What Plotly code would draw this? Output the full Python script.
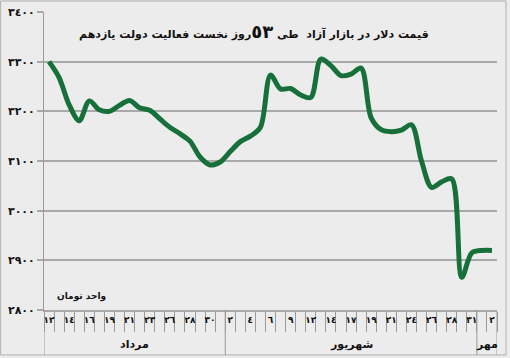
import plotly.graph_objects as go

# Data (trading days from Mordad 12 to Mehr 2)
values = [3300, 3268, 3213, 3181, 3221, 3203, 3200, 3212, 3222, 3207,
          3202, 3185, 3168, 3155, 3140, 3108, 3092, 3098, 3119, 3139,
          3150, 3168, 3273, 3245, 3246, 3233, 3228, 3305, 3292, 3272,
          3275, 3287, 3187, 3163, 3159, 3162, 3173, 3100, 3047, 3058,
          3064, 2866, 2915, 2920, 2920]
tick_labels = ["١٢", "١٤", "١٦", "١٩", "٢١", "٢٣", "٢٦", "٢٨", "٣٠",
               "٢", "٤", "٦", "٩", "١٢", "١٤", "١٧", "١٩", "٢١", "٢٤", "٢٦", "٢٨", "٣١",
               "٢"]
months = ["مرداد", "شهریور", "مهر"]
month_counts = [18, 25, 2]
y_ticks = [2800, 2900, 3000, 3100, 3200, 3300, 3400]
y_tick_labels = ["٢٨٠٠", "٢٩٠٠", "٣٠٠٠", "٣١٠٠", "٣٢٠٠", "٣٣٠٠", "٣٤٠٠"]
title = 'قیمت دلار در بازار آزاد  طی <span style="font-size:18px">٥٣</span>روز نخست فعالیت دولت یازدهم'
unit_label = "واحد تومان"

n = len(values)
xs = list(range(n))
FONT = "DejaVu Sans"
GRID = "#a9a9a9"
BG = "#ececec"

fig = go.Figure()
fig.add_trace(go.Scatter(
    x=xs, y=values, mode="lines",
    line=dict(color="#17703a", width=5, shape="spline", smoothing=0.9),
    hoverinfo="skip", showlegend=False,
))

shapes = []
bottom = -0.151
bounds = [-0.5]
acc = -0.5
for c in month_counts:
    acc += c
    bounds.append(acc)
for b in bounds:
    shapes.append(dict(type="line", xref="x", yref="paper", x0=b, x1=b, y0=0, y1=bottom,
                       line=dict(color="#9a9a9a", width=1)))
shapes.append(dict(type="rect", xref="paper", yref="paper", x0=-0.0957, x1=1.0199, y0=bottom, y1=1.037,
                   line=dict(color="#b0b0b0", width=1), fillcolor="rgba(0,0,0,0)", layer="below"))

annotations = []
annotations.append(dict(text=title, xref="paper", yref="paper", x=0.463, y=0.933,
                        xanchor="center", yanchor="middle",
                        showarrow=False, font=dict(family=FONT, size=11, color="#111", weight="bold")))
annotations.append(dict(text=unit_label, xref="paper", yref="paper", x=0.083, y=0.044,
                        xanchor="center", yanchor="middle",
                        showarrow=False, font=dict(family=FONT, size=9, color="#111", weight="bold")))
start = -0.5
for m, c in zip(months, month_counts):
    annotations.append(dict(text=m, xref="x", yref="paper", x=start + c / 2, y=-0.115,
                            xanchor="center", yanchor="middle",
                            showarrow=False, font=dict(family=FONT, size=11, color="#111", weight="bold")))
    start += c

fig.update_layout(
    width=510, height=358,
    margin=dict(l=44, r=13, t=12, b=48, autoexpand=False),
    paper_bgcolor=BG, plot_bgcolor=BG,
    shapes=shapes, annotations=annotations,
    xaxis=dict(
        range=[-0.5, n - 0.5], tickmode="array",
        tickvals=list(range(0, n, 2)), ticktext=tick_labels,
        ticks="", showgrid=False, zeroline=False, automargin=False,
        showline=True, linecolor=GRID, linewidth=1.5,
        tickfont=dict(family=FONT, size=9, color="#111", weight="bold"),
        minor=dict(tickmode="array", tickvals=[i - 0.5 for i in range(n + 1)],
                   ticks="outside", ticklen=20, tickcolor="#9a9a9a", tickwidth=1, showgrid=False),
        fixedrange=True,
    ),
    yaxis=dict(
        range=[2800, 3400], tickmode="array", tickvals=y_ticks, ticktext=y_tick_labels,
        ticks="outside", ticklen=6, tickcolor=GRID, tickwidth=1.5, automargin=False,
        showgrid=True, gridcolor=GRID, gridwidth=1.5, zeroline=False,
        showline=True, linecolor="#9a9a9a", linewidth=1,
        tickfont=dict(family=FONT, size=11, color="#111", weight="bold"),
        fixedrange=True,
    ),
)

fig.write_html("out.html", config={"displayModeBar": False},
               post_script="document.body.style.margin='0px';")
